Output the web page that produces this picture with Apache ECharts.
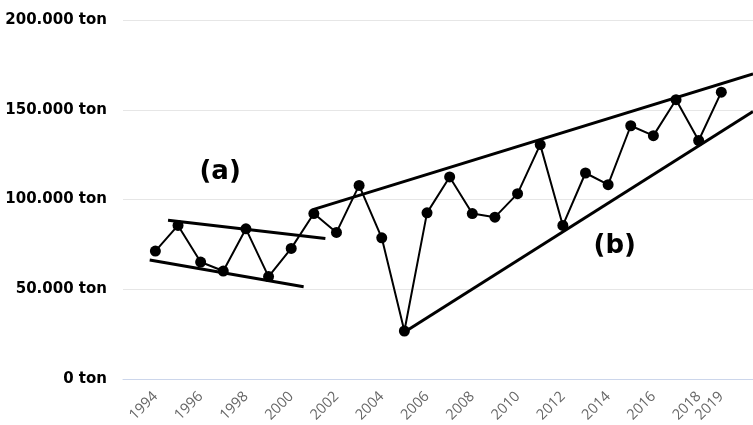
<!DOCTYPE html>
<html>
<head>
<meta charset="utf-8">
<script src="https://cdn.jsdelivr.net/npm/echarts@6/dist/echarts.min.js"></script>
<style>
  html, body { margin: 0; padding: 0; background: #fff; }
  #chart { width: 753px; height: 425px; }
</style>
</head>
<body>
<div id="chart"></div>
<script>
// data (ton)
const years = [1994, 1995, 1996, 1997, 1998, 1999, 2000, 2001, 2002, 2003, 2004, 2005, 2006,
  2007, 2008, 2009, 2010, 2011, 2012, 2013, 2014, 2015, 2016, 2017, 2018, 2019]
const production = [71300, 85600, 65200, 60200, 83700, 57100, 72800, 92200, 81700, 107900, 78700, 26800, 92600,
  112600, 92200, 90200, 103300, 130600, 85600, 114800, 108300, 141100, 135600, 155600, 132900, 159800]
const xTickLabels = [1994, 1996, 1998, 2000, 2002, 2004, 2006, 2008, 2010, 2012, 2014, 2016, 2018, 2019]
const yTicks = [0, 50000, 100000, 150000, 200000]

// trend lines [year, ton]
const channelAUpper = [[1994.56, 88500], [2001.51, 78300]]
const channelALower = [[1993.75, 66300], [2000.55, 51500]]
const wedgeBUpper = [[2000.96, 94400], [2020.4, 170000]]
const wedgeBLower = [[2004.99, 26100], [2020.4, 149000]]
const annotations = [[1996.86, 115000, '(a)'], [2014.29, 73900, '(b)']]

const fmtTon = (v) => {
  if (v === 0) return '0 ton'
  return String(v).replace(/\B(?=(\d{3})+(?!\d))/g, '.') + ' ton'
}

const trendLine = (points) => ({
  type: 'line',
  data: points,
  symbol: 'none',
  silent: true,
  lineStyle: { color: '#000', width: 3 },
  z: 3
})

const initChart = () => {
  const chart = echarts.init(document.getElementById('chart'), null, { renderer: 'canvas' })
  const option = {
    animation: false,
    backgroundColor: '#fff',
    grid: { left: 123, right: 0, top: 20, bottom: 45, containLabel: false },
    xAxis: {
      type: 'value',
      min: 1992.57,
      max: 2020.4,
      splitLine: { show: false },
      axisTick: { show: false },
      axisLine: { show: true, lineStyle: { color: '#ccd6eb', width: 1 } },
      axisLabel: {
        customValues: xTickLabels,
        formatter: (v) => String(v),
        rotate: 45,
        margin: 15,
        color: '#666',
        fontSize: 14.5,
        fontFamily: '"Open Sans", "Noto Sans", sans-serif'
      }
    },
    yAxis: {
      type: 'value',
      min: 0,
      max: 200000,
      interval: 50000,
      axisLine: { show: false },
      axisTick: { show: false },
      splitLine: { show: true, lineStyle: { color: '#e6e6e6', width: 1 } },
      axisLabel: {
        customValues: yTicks,
        formatter: fmtTon,
        margin: 16,
        color: '#000',
        fontSize: 15,
        fontWeight: 'bold',
        fontFamily: '"DejaVu Sans", sans-serif'
      }
    },
    series: [
      {
        type: 'line',
        data: years.map((y, i) => [y, production[i]]),
        symbol: 'circle',
        symbolSize: 11,
        itemStyle: { color: '#000' },
        lineStyle: { color: '#000', width: 2 },
        z: 4
      },
      trendLine(channelAUpper),
      trendLine(channelALower),
      trendLine(wedgeBUpper),
      trendLine(wedgeBLower),
      {
        type: 'scatter',
        data: annotations.map((a) => [a[0], a[1], a[2]]),
        symbolSize: 1,
        silent: true,
        itemStyle: { color: '#fff', opacity: 1 },
        label: {
          show: true,
          position: 'inside',
          formatter: (p) => p.data[2],
          color: '#000',
          opacity: 1,
          textBorderWidth: 0,
          fontSize: 26,
          fontWeight: 'bold',
          fontFamily: '"DejaVu Sans", sans-serif'
        },
        z: 5
      }
    ]
  }
  chart.setOption(option, true)
}

initChart()
</script>
</body>
</html>
